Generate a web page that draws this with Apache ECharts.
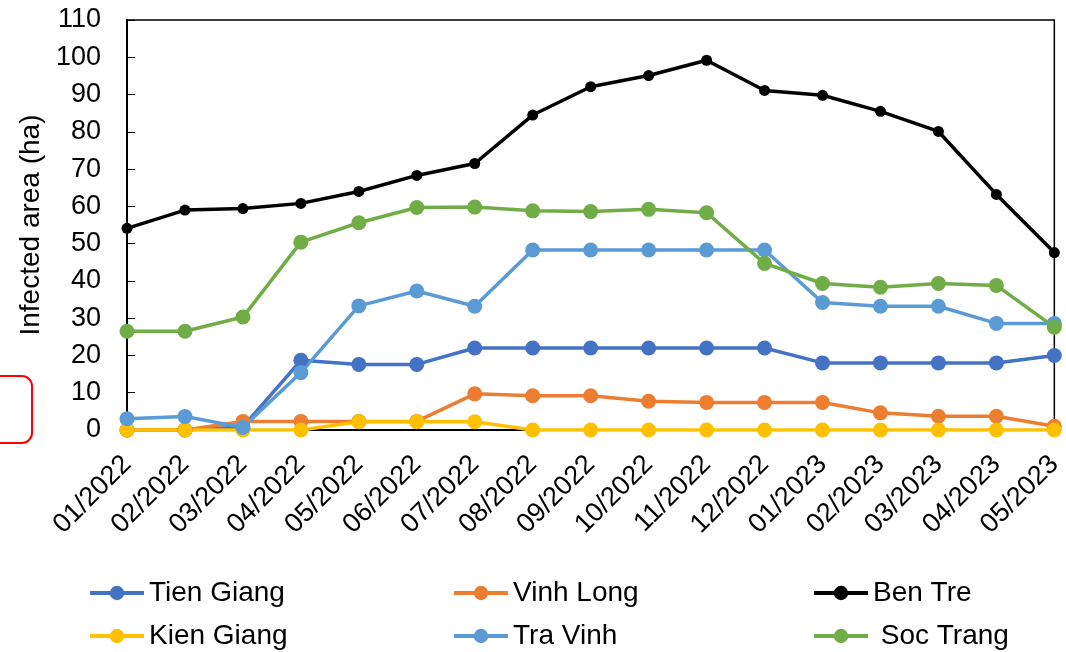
<!DOCTYPE html>
<html>
<head>
<meta charset="utf-8">
<script src="https://cdn.jsdelivr.net/npm/echarts@6/dist/echarts.min.js"></script>
<style>
  html, body { margin: 0; padding: 0; background: #fff; }
  #chart { width: 1066px; height: 652px; }
</style>
</head>
<body>
<div id="chart"></div>
<script>
var months = ['01/2022','02/2022','03/2022','04/2022','05/2022','06/2022','07/2022','08/2022','09/2022',
    '10/2022','11/2022','12/2022','01/2023','02/2023','03/2023','04/2023','05/2023'];

var tienGiang = [0, 0, 0.8, 18.7, 17.6, 17.6, 22, 22, 22, 22, 22, 22, 18, 18, 18, 18, 20];
var vinhLong  = [0, 0, 2.3, 2.3, 2.3, 2.3, 9.7, 9.2, 9.2, 7.7, 7.4, 7.4, 7.4, 4.6, 3.7, 3.7, 1];
var benTre    = [54.1, 59, 59.4, 60.8, 64, 68.3, 71.5, 84.5, 92.1, 95.1, 99.2, 91.1, 89.8, 85.5, 80.1, 63.2, 47.6];
var kienGiang = [0, 0, 0, 0, 2.2, 2.2, 2.2, 0, 0, 0, 0, 0, 0, 0, 0, 0, 0];
var traVinh   = [3, 3.6, 0.7, 15.4, 33.3, 37.3, 33.2, 48.3, 48.3, 48.3, 48.3, 48.3, 34.2, 33.2, 33.2, 28.6, 28.6];
var socTrang  = [26.5, 26.5, 30.3, 50.4, 55.6, 59.7, 59.8, 58.8, 58.6, 59.2, 58.3, 44.7, 39.3, 38.3, 39.3, 38.8, 27.6];

var seriesDefs = [
    { name: 'Tien Giang', data: tienGiang, color: '#4472C4', size: 15 },
    { name: 'Vinh Long', data: vinhLong, color: '#ED7D31', size: 15 },
    { name: 'Ben Tre', data: benTre, color: '#000000', size: 11 },
    { name: 'Kien Giang', data: kienGiang, color: '#FFC000', size: 15 },
    { name: 'Tra Vinh', data: traVinh, color: '#5B9BD5', size: 15 },
    { name: ' Soc Trang', data: socTrang, color: '#70AD47', size: 15 }
];

// legend slots: column left, row top
var legendLeft = [88, 452, 812, 88, 452, 812];
var legendTop = [577, 577, 577, 620, 620, 620];

var font = 'Liberation Sans, Arial, sans-serif';

var legends = seriesDefs.map(function (s, i) {
    return {
        left: legendLeft[i],
        top: legendTop[i],
        padding: 0,
        itemWidth: 54,
        itemHeight: 18,
        data: [s.name],
        lineStyle: { width: 4 },
        textStyle: { fontFamily: font, fontSize: 28, color: '#000', lineHeight: 32 }
    };
});

var chart = echarts.init(document.getElementById('chart'));
var option = {
    backgroundColor: '#fff',
    animation: false,
    grid: {
        left: 127, right: 7, top: 20, bottom: 222,
        show: true, borderColor: '#000', borderWidth: 1.5, backgroundColor: 'transparent'
    },
    legend: legends,
    xAxis: {
        type: 'category',
        data: months,
        boundaryGap: false,
        axisLine: { lineStyle: { color: '#000', width: 2 } },
        axisTick: { inside: true, length: 6, lineStyle: { color: '#000' } },
        axisLabel: { rotate: 45, fontFamily: font, fontSize: 27, color: '#000', margin: 30 }
    },
    yAxis: {
        type: 'value',
        min: 0, max: 110, interval: 10,
        name: 'Infected area (ha)',
        nameLocation: 'middle',
        nameGap: 80,
        nameTextStyle: { fontFamily: font, fontSize: 28, color: '#000' },
        axisLine: { show: true, lineStyle: { color: '#000', width: 2 } },
        axisTick: { show: true, inside: true, length: 8, lineStyle: { color: '#000' } },
        axisLabel: { fontFamily: font, fontSize: 27, color: '#000', margin: 26 },
        splitLine: { show: false }
    },
    graphic: [{
        type: 'rect',
        shape: { x: -40, y: 376, width: 72, height: 67, r: 10 },
        style: { fill: 'none', stroke: '#ff0000', lineWidth: 2 }
    }],
    series: seriesDefs.map(function (s) {
        return {
            name: s.name,
            type: 'line',
            data: s.data,
            symbol: 'circle',
            symbolSize: s.size,
            color: s.color,
            lineStyle: { width: 3.5, color: s.color },
            itemStyle: { color: s.color }
        };
    })
};
chart.setOption(option);
</script>
</body>
</html>
